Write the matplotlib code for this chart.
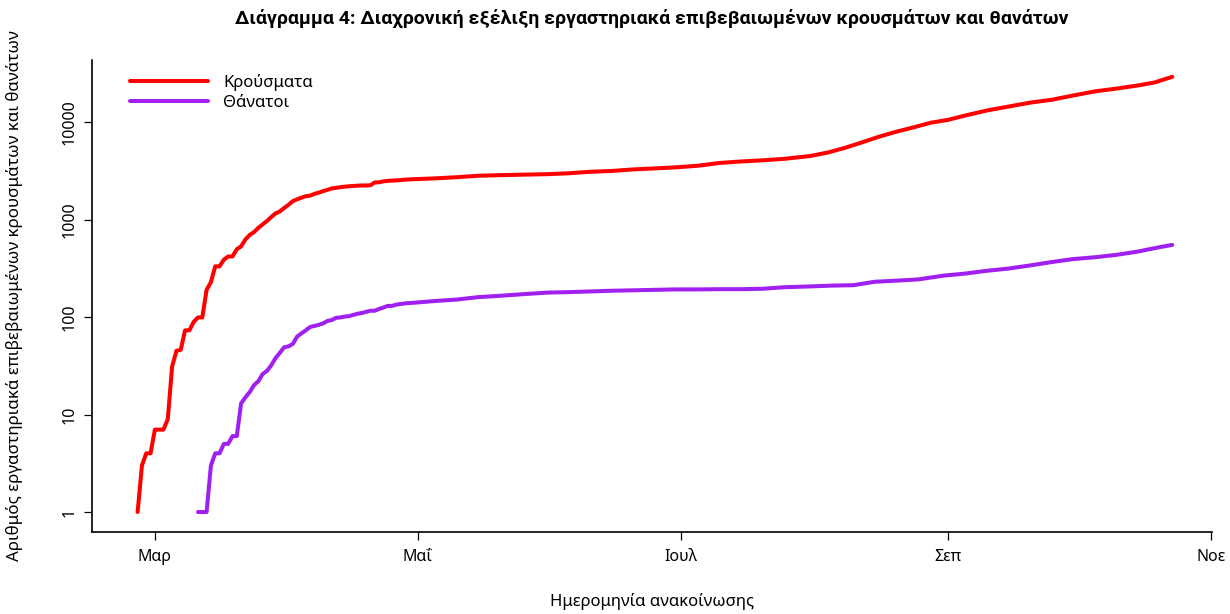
import numpy as np
import pandas as pd
import matplotlib
matplotlib.use("Agg")
import matplotlib.pyplot as plt

# cumulative lab-confirmed cases (announcement date)
case_dates = (
    pd.date_range("2020-02-26", "2020-04-30").strftime("%Y-%m-%d").tolist()
    + ["2020-05-05", "2020-05-10", "2020-05-15", "2020-05-20", "2020-05-25", "2020-05-31",
       "2020-06-05", "2020-06-10", "2020-06-15", "2020-06-20", "2020-06-25", "2020-06-30",
       "2020-07-05", "2020-07-10", "2020-07-15", "2020-07-20", "2020-07-25", "2020-07-31",
       "2020-08-04", "2020-08-08", "2020-08-12", "2020-08-16", "2020-08-20", "2020-08-24",
       "2020-08-28", "2020-09-01", "2020-09-05", "2020-09-10", "2020-09-15", "2020-09-20",
       "2020-09-25", "2020-09-30", "2020-10-05", "2020-10-10", "2020-10-15", "2020-10-19",
       "2020-10-21", "2020-10-23"]
)
case_vals = [
    1, 3, 4, 4,
    7, 7, 7, 9, 31, 45, 46, 73, 73, 89, 99, 99, 190, 228, 331, 331, 387, 418, 418, 495,
    530, 624, 695, 743, 821, 892, 966, 1061, 1156, 1212, 1314,
    1415, 1544, 1613, 1673, 1735, 1755, 1832, 1884, 1955, 2011, 2081, 2114, 2145, 2170,
    2192, 2207, 2224, 2235, 2235, 2245, 2401, 2408, 2463, 2490, 2506, 2517, 2534, 2566,
    2576, 2591,
    2642, 2716, 2810, 2850, 2882, 2917,
    2980, 3088, 3148, 3266, 3343, 3432,
    3562, 3803, 3939, 4048, 4193, 4477,
    4855, 5421, 6177, 7075, 7953, 8819,
    9843, 10524, 11663, 13125, 14400, 15800,
    16900, 18700, 20600, 22000, 23700, 25500,
    27300, 29050,
]

# cumulative deaths
death_dates = (
    pd.date_range("2020-03-11", "2020-04-30").strftime("%Y-%m-%d").tolist()
    + ["2020-05-05", "2020-05-10", "2020-05-15", "2020-05-20", "2020-05-25", "2020-05-31",
       "2020-06-05", "2020-06-10", "2020-06-15", "2020-06-20", "2020-06-25", "2020-06-30",
       "2020-07-05", "2020-07-10", "2020-07-15", "2020-07-20", "2020-07-25", "2020-07-31",
       "2020-08-05", "2020-08-10", "2020-08-15", "2020-08-20", "2020-08-25", "2020-08-31",
       "2020-09-05", "2020-09-10", "2020-09-15", "2020-09-20", "2020-09-25", "2020-09-30",
       "2020-10-05", "2020-10-10", "2020-10-15", "2020-10-20", "2020-10-23"]
)
death_vals = [
    1, 1, 1, 3, 4, 4, 5, 5, 6, 6, 13, 15, 17, 20, 22, 26, 28, 32, 38, 43, 49,
    50, 53, 63, 68, 73, 79, 81, 83, 86, 91, 93, 98, 99, 101, 102, 105, 108, 110, 113,
    116, 116, 121, 125, 130, 130, 134, 136, 138, 139, 140,
    146, 151, 160, 165, 171, 178,
    180, 183, 186, 188, 190, 192,
    192, 193, 193, 195, 202, 206,
    210, 212, 230, 236, 243, 266,
    279, 298, 314, 338, 366, 393,
    410, 434, 469, 520, 549,
]

month_ticks = ["2020-03-01", "2020-05-01", "2020-07-01", "2020-09-01", "2020-11-01"]
month_labels = ["Μαρ", "Μαΐ", "Ιουλ", "Σεπ", "Νοε"]
y_ticks = [1, 10, 100, 1000, 10000]
series_names = ["Κρούσματα", "Θάνατοι"]

plt.rcParams["font.family"] = ["Noto Sans", "DejaVu Sans"]

fig = plt.figure(figsize=(12.3, 6.14), dpi=100)
ax = fig.add_axes([92 / 1230, 82 / 614, 1120 / 1230, 472 / 614])

ax.plot(pd.to_datetime(case_dates), case_vals, color="#FF0000", lw=2.9,
        solid_capstyle="round", solid_joinstyle="round", label=series_names[0])
ax.plot(pd.to_datetime(death_dates), death_vals, color="#A020F0", lw=2.9,
        solid_capstyle="round", solid_joinstyle="round", label=series_names[1])

ax.set_yscale("log")
ax.set_xlim(pd.Timestamp("2020-02-15 10:00"), pd.Timestamp("2020-11-01 05:00"))
ax.set_ylim(0.624, 43250)
ax.set_yticks(y_ticks)
ax.set_yticklabels([str(v) for v in y_ticks], rotation=90, va="center", fontsize=11.5)
ax.yaxis.set_minor_locator(matplotlib.ticker.NullLocator())
ax.set_xticks(pd.to_datetime(month_ticks))
ax.set_xticklabels(month_labels, fontsize=11.5)
ax.tick_params(direction="out", length=5.5, width=0.9, color="black")
ax.tick_params(axis="x", pad=7)
ax.tick_params(axis="y", pad=5)

for s in ["top", "right"]:
    ax.spines[s].set_visible(False)
for s in ["left", "bottom"]:
    ax.spines[s].set_linewidth(1.2)

ax.legend(loc="upper left", bbox_to_anchor=(0.028, 0.985), frameon=False, fontsize=12,
          handlelength=4.7, handletextpad=0.9, labelspacing=0.24, borderaxespad=0)

fig.text(652 / 1230, 1 - 18 / 614,
         "Διάγραμμα 4: Διαχρονική εξέλιξη εργαστηριακά επιβεβαιωμένων κρουσμάτων και θανάτων",
         ha="center", va="center", fontsize=14, fontweight="bold",
         family=["Roboto", "DejaVu Sans"])
fig.text(652 / 1230, 1 - 602 / 614, "Ημερομηνία ανακοίνωσης", ha="center", va="center",
         fontsize=12)
fig.text(15 / 1230, 1 - 296 / 614,
         "Αριθμός εργαστηριακά επιβεβαιωμένων κρουσμάτων και θανάτων",
         ha="center", va="center", rotation=90, fontsize=12.2)

fig.savefig("out.png", dpi=100)
